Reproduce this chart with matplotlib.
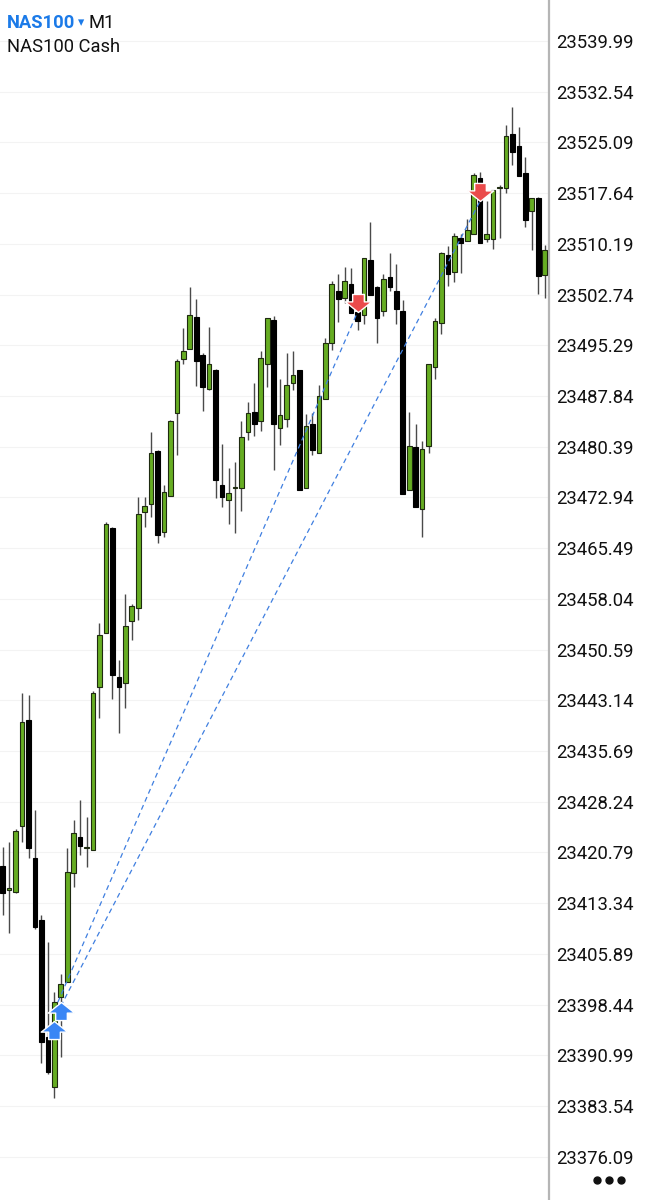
import matplotlib
matplotlib.use("Agg")
import matplotlib.pyplot as plt
import numpy as np
from matplotlib.path import Path
from matplotlib.lines import Line2D

# ---------------- data ----------------
opens = [23418.8, 23415.2, 23415.0, 23424.7, 23440.2, 23420.0, 23410.9, 23393.7, 23386.3, 23399.5,
         23401.8, 23417.8, 23423.1, 23421.4, 23421.2, 23445.1, 23453.1, 23468.5, 23446.6, 23445.7,
         23454.8, 23456.7, 23470.8, 23472.0, 23479.8, 23467.8, 23473.2, 23485.3, 23493.3, 23494.8,
         23499.5, 23493.9, 23488.8, 23491.6, 23474.7, 23472.6, 23474.4, 23474.3, 23482.5, 23485.5,
         23484.1, 23492.5, 23499.0, 23483.2, 23484.5, 23489.7, 23491.6, 23474.3, 23483.8, 23479.5,
         23487.4, 23495.6, 23503.3, 23502.2, 23504.3, 23500.2, 23499.7, 23507.8, 23503.9, 23500.3,
         23505.3, 23503.3, 23500.4, 23474.0, 23480.3, 23471.2, 23480.5, 23492.1, 23498.5, 23508.6,
         23506.0, 23511.0, 23510.6, 23511.6, 23519.8, 23510.9, 23510.9, 23518.4, 23518.4, 23526.3,
         23524.6, 23520.6, 23515.0, 23516.9, 23505.6]
highs = [23421.6, 23422.3, 23424.2, 23444.2, 23443.9, 23427.0, 23411.6, 23407.6, 23400.3, 23402.9,
         23421.4, 23425.5, 23428.5, 23426.0, 23444.5, 23454.5, 23469.3, 23468.6, 23449.0, 23458.8,
         23457.3, 23473.0, 23473.0, 23482.6, 23479.9, 23474.8, 23484.3, 23493.3, 23497.8, 23503.9,
         23502.1, 23494.1, 23498.0, 23491.8, 23480.8, 23477.2, 23478.2, 23484.1, 23487.0, 23489.7,
         23494.5, 23499.3, 23499.6, 23490.3, 23494.1, 23494.5, 23491.7, 23485.2, 23485.3, 23489.5,
         23496.3, 23504.8, 23505.8, 23506.8, 23506.6, 23501.2, 23508.1, 23513.4, 23504.0, 23505.8,
         23508.9, 23507.2, 23502.0, 23485.5, 23483.8, 23481.2, 23492.5, 23499.3, 23509.0, 23509.9,
         23511.8, 23511.6, 23513.9, 23520.6, 23520.8, 23516.5, 23518.1, 23518.8, 23527.6, 23530.3,
         23527.4, 23523.0, 23517.0, 23517.1, 23510.0]
lows = [23411.6, 23409.0, 23414.8, 23422.3, 23420.0, 23409.6, 23389.9, 23388.3, 23384.7, 23390.7,
        23401.8, 23415.7, 23420.4, 23418.6, 23421.2, 23440.5, 23453.0, 23443.3, 23438.4, 23442.0,
        23452.0, 23454.9, 23468.6, 23470.1, 23466.2, 23467.2, 23473.2, 23479.2, 23492.5, 23494.8,
        23489.3, 23485.7, 23488.7, 23472.8, 23471.6, 23469.1, 23467.7, 23470.9, 23481.4, 23481.9,
        23482.7, 23489.2, 23476.9, 23480.6, 23483.3, 23488.7, 23474.0, 23474.3, 23479.2, 23479.5,
        23487.4, 23494.6, 23498.7, 23501.5, 23500.1, 23497.6, 23498.4, 23502.7, 23495.7, 23499.6,
        23503.2, 23498.4, 23473.4, 23474.0, 23471.5, 23467.2, 23479.5, 23490.4, 23497.0, 23504.0,
        23504.6, 23505.9, 23510.6, 23511.6, 23510.3, 23510.5, 23509.4, 23511.1, 23517.6, 23521.8,
        23520.2, 23512.7, 23509.3, 23502.9, 23502.2]
closes = [23414.8, 23415.5, 23423.9, 23440.0, 23421.4, 23409.8, 23392.9, 23388.5, 23398.8, 23401.5,
          23417.9, 23423.6, 23421.7, 23421.5, 23444.2, 23452.7, 23469.0, 23446.8, 23445.1, 23454.0,
          23457.0, 23470.5, 23471.7, 23479.5, 23467.4, 23473.8, 23484.2, 23493.0, 23494.5, 23499.7,
          23493.0, 23489.1, 23492.5, 23475.5, 23473.0, 23473.6, 23474.5, 23481.8, 23485.3, 23483.7,
          23493.5, 23499.3, 23483.7, 23485.1, 23489.5, 23491.0, 23474.0, 23483.5, 23479.9, 23487.9,
          23495.7, 23504.3, 23502.1, 23504.7, 23500.1, 23498.9, 23508.1, 23502.7, 23499.3, 23505.1,
          23503.9, 23500.6, 23473.4, 23480.5, 23471.5, 23480.0, 23492.5, 23498.8, 23508.8, 23505.8,
          23511.4, 23510.3, 23512.2, 23520.3, 23510.3, 23511.6, 23518.1, 23518.5, 23526.1, 23523.7,
          23520.2, 23513.7, 23517.0, 23505.4, 23509.3]

# trades (bar index, price)
buy_idx = [8, 9]
buy_line_price = [23397.6, 23398.2]
buy_arrow_price = [23396.0, 23398.8]
sell_idx = [55, 74]
sell_price = [23500.2, 23516.5]

tick_start = 23376.09
tick_step = 7.45
n_ticks = 23
tick_values = [round(tick_start + k * tick_step, 2) for k in range(n_ticks)]

symbol = "NAS100"
timeframe = "M1"
description = "NAS100 Cash"

# ---------------- figure ----------------
W, H = 661, 1200
fig = plt.figure(figsize=(W / 100, H / 100), dpi=100)
ax_right_px = 549
ax = fig.add_axes([0, 0, ax_right_px / W, 1])

n = len(opens)
x = np.arange(n)
o = np.array(opens); c = np.array(closes); h = np.array(highs); l = np.array(lows)
up = c >= o

ax.set_xlim(-0.42, 84.67)
ax.set_ylim(23369.73, 23546.02)

# faint grid
for tv in tick_values:
    ax.axhline(tv, color='#f3f3f3', lw=0.8, zorder=0)

# wicks
ax.vlines(x, l, h, color='#4a4a4a', lw=1.0, zorder=2)

# bodies
body_bottom = np.minimum(o, c)
body_h = np.maximum(np.abs(c - o), 0.12)
green = '#66ad22'
ax.bar(x[up], body_h[up], bottom=body_bottom[up], width=0.72,
       color=green, edgecolor='#1e2a10', linewidth=0.8, zorder=3)
ax.bar(x[~up], body_h[~up], bottom=body_bottom[~up], width=0.72,
       color='black', edgecolor='black', linewidth=0.8, zorder=3)

# trade lines
for bi, bp, si, sp in zip(buy_idx, buy_line_price, sell_idx, sell_price):
    ax.plot([bi, si], [bp, sp], color='#3f7fe0', lw=0.9, ls=(0, (4, 3)), zorder=4)

# arrow markers (tip at origin)
up_verts = [(0, 0), (1.25, -1.0), (0.55, -1.0), (0.55, -1.7), (-0.55, -1.7), (-0.55, -1.0), (-1.25, -1.0), (0, 0)]
up_path = Path(up_verts, [Path.MOVETO] + [Path.LINETO] * 6 + [Path.CLOSEPOLY])
down_verts = [(vx, -vy) for vx, vy in up_verts]
down_path = Path(down_verts, [Path.MOVETO] + [Path.LINETO] * 6 + [Path.CLOSEPOLY])

for bi, bp in zip(buy_idx, buy_arrow_price):
    ax.plot([bi], [bp], marker=up_path, markersize=26, color='#3a86f5',
            markeredgecolor='white', markeredgewidth=1.0, zorder=5, ls='none')
for si, sp in zip(sell_idx, sell_price):
    ax.plot([si], [sp], marker=down_path, markersize=26, color='#ea4b4b',
            markeredgecolor='white', markeredgewidth=1.0, zorder=5, ls='none')

# axes styling
for s in ['top', 'left', 'bottom']:
    ax.spines[s].set_visible(False)
ax.spines['right'].set_color('#b5b5b5')
ax.spines['right'].set_linewidth(1.6)
ax.set_xticks([])
ax.set_yticks(tick_values)
ax.set_yticklabels([f"{v:.2f}" for v in tick_values])
ax.yaxis.tick_right()
ax.tick_params(axis='y', length=0, pad=5, labelsize=13.3, labelcolor='#111111')
for lab in ax.get_yticklabels():
    lab.set_fontfamily('Roboto')

# header texts
fig.text(7 / W, 1 - 23.5 / H, symbol, color='#1b7ae8', fontsize=13.2, fontweight='bold',
         family='Roboto', va='center', ha='left')
fig.text(77.5 / W, 1 - 22.5 / H, "▾", color='#1b7ae8', fontsize=9,
         family='DejaVu Sans', va='center', ha='left')
fig.text(88 / W, 1 - 23.5 / H, timeframe, color='#111111', fontsize=13.2,
         family='Roboto', va='center', ha='left')
fig.text(7 / W, 1 - 47 / H, description, color='#111111', fontsize=13.2,
         family='Roboto', va='center', ha='left')

# menu dots
dots_x = [597 / W, 609 / W, 621 / W]
fig.add_artist(Line2D(dots_x, [1 - 1180 / H] * 3, transform=fig.transFigure, ls='none',
                      marker='o', markersize=5, color='#111111'))

fig.savefig("out.png", dpi=100)
